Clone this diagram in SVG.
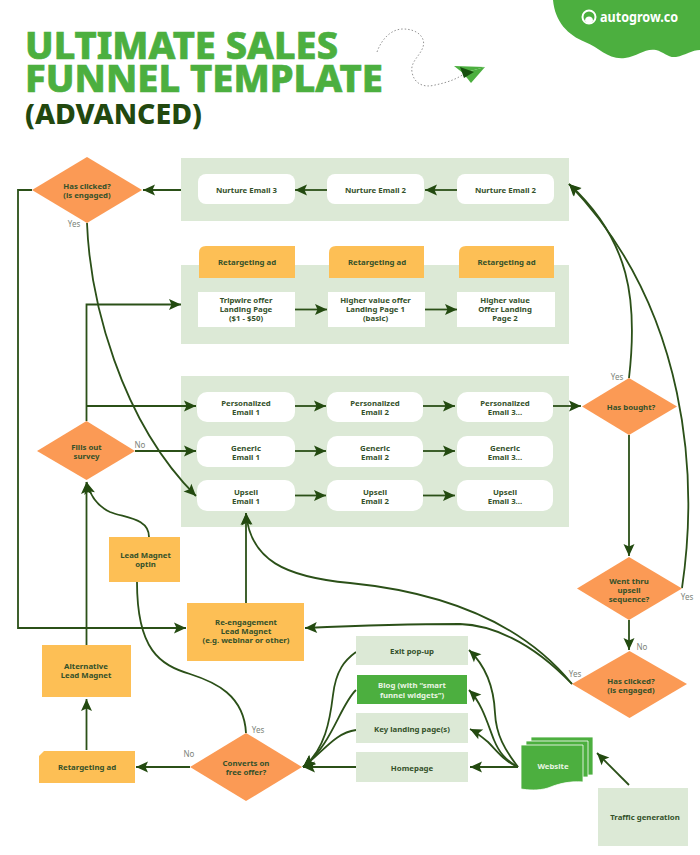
<svg xmlns="http://www.w3.org/2000/svg" width="700" height="855" viewBox="0 0 700 855">
<style>
text{font-family:"Noto Sans","Open Sans","Liberation Sans",sans-serif}
.t{font-size:7.800px;font-weight:700;fill:#34512a;text-anchor:middle}
.w{fill:#eaf5e4}
.l{font-size:8px;fill:#7c8479;text-anchor:middle}
.p{fill:#dce9d6}
.b{fill:#fff}
.y{fill:#fdbf55}
.d{fill:#fb9a55}
.c{fill:none;stroke:#2b5018;stroke-width:1.800}
.a{marker-end:url(#h)}
.h1{font-size:38px;font-weight:800;fill:#4caf3f;stroke:#4caf3f;stroke-width:0.700}
</style>
<defs>
<marker id="h" markerUnits="userSpaceOnUse" markerWidth="14" markerHeight="14" refX="13" refY="7" orient="auto" overflow="visible"><path d="M1 1.500L13 7L1 12.500L3.500 7Z" fill="#234a10"/></marker>
</defs>
<rect width="700" height="855" fill="#fff"/>
<g id="title">
<text class="h1"><tspan x="25" y="59" textLength="313" lengthAdjust="spacingAndGlyphs">ULTIMATE SALES</tspan><tspan x="25" y="91.500" textLength="358" lengthAdjust="spacingAndGlyphs">FUNNEL TEMPLATE</tspan></text>
<text x="25" y="124" font-size="29" font-weight="800" fill="#22480f" textLength="177" lengthAdjust="spacingAndGlyphs">(ADVANCED)</text>
</g>
<g id="logo">
<path d="M553 0C555 22 568 35 585 42C600 48 608 60 625 58C638 56 645 48 656 50C664 52 668 58 676 57C686 55 692 50 700 50V0Z" fill="#4caf3f"/>
<circle cx="589" cy="17" r="6.500" fill="none" stroke="#fff" stroke-width="2"/>
<path d="M585 20.500C585 15 593 15 593 20.500L591 23H587Z" fill="#fff"/>
<text x="600" y="22" font-size="13.500" font-weight="700" fill="#fff" textLength="78" lengthAdjust="spacingAndGlyphs">autogrow.co</text>
</g>
<g id="plane">
<path d="M377 52C382 38 392 29 403 29C418 29 426 38 423 47C420 56 410 62 412 72C414 84 424 88 435 85C445 83 455 80 464 74" fill="none" stroke="#777" stroke-width="0.800" stroke-dasharray="1.500 2"/>
<path d="M454 66L485 67L463 73Z" fill="#4caf3f"/>
<path d="M463 73L485 67L471 83Z" fill="#4caf3f"/>
<path d="M460 67L474 72L464 78Z" fill="#17500f"/>
</g>
<g id="panels">
<rect class="p" x="181" y="158" width="388" height="63"/>
<rect class="p" x="181" y="265" width="388" height="79"/>
<rect class="p" x="181" y="376" width="388" height="151"/>
</g>
<g id="connectors">
<path class="c a" d="M457 190H425"/>
<path class="c a" d="M327 190H295"/>
<path class="c a" d="M181 190H143"/>
<path class="c a" d="M32 190H18V628H186"/>
<path class="c a" d="M87 223C90 300 120 420 196 496"/>
<path class="c a" d="M295 309.500H327"/>
<path class="c a" d="M425 309.500H457"/>
<path class="c a" d="M86.500 421V304.500H181"/>
<path class="c a" d="M86.500 406H196"/>
<path class="c a" d="M135 451H196"/>
<path class="c a" d="M295 406H326"/>
<path class="c a" d="M423 406H455"/>
<path class="c a" d="M295 451H326"/>
<path class="c a" d="M423 451H455"/>
<path class="c a" d="M295 495.500H326"/>
<path class="c a" d="M423 495.500H455"/>
<path class="c a" d="M553 406H581"/>
<path class="c a" d="M629 378C638 300 630 240 569 184"/>
<path class="c a" d="M629 435V556"/>
<path class="c a" d="M629 620V650"/>
<path class="c a" d="M682 588C698 480 690 310 569 184"/>
<path class="c a" d="M572 684C520 620 440 592 350 583C285 577 250 560 246 513"/>
<path class="c a" d="M572 684C530 640 490 625 460 624C420 624 350 626 305 628"/>
<path class="c a" d="M246 603V513"/>
<path class="c a" d="M149 537C149 518 125 518 110 512C97 506 90 495 86.500 482"/>
<path class="c a" d="M86.500 645V482"/>
<path class="c a" d="M86.500 750V699"/>
<path class="c a" d="M190 767H136"/>
<path class="c" d="M246 733C244 695 215 682 190 674C160 665 137 650 137 582"/>
<path class="c a" d="M356 767H303"/>
<path class="c a" d="M356 730C335 733 325 750 303 767"/>
<path class="c a" d="M356 690C340 705 332 745 303 767"/>
<path class="c a" d="M356 652C345 660 336 670 333 695C330 720 325 750 303 767"/>
<path class="c a" d="M518 767H470"/>
<path class="c a" d="M518 767C505 762 498 752 488 742C482 737 476 732 470 729"/>
<path class="c a" d="M518 767C505 760 499 752 494 740C488 725 482 703 469 690"/>
<path class="c a" d="M518 767C505 750 496 735 495 713C494 690 488 668 469 650"/>
<path class="c a" d="M629 785L597 753"/>
</g>
<g id="n1"><rect class="b" x="198" y="174" width="97" height="30" rx="8"/><text class="t" x="246.500" y="192.500">Nurture Email 3</text></g>
<g id="n2"><rect class="b" x="327" y="174" width="97" height="30" rx="8"/><text class="t" x="375.500" y="192.500">Nurture Email 2</text></g>
<g id="n3"><rect class="b" x="457" y="174" width="97" height="30" rx="8"/><text class="t" x="505.500" y="192.500">Nurture Email 2</text></g>
<g id="hc1"><path class="d" d="M87 157L142 190L87 223L32 190Z"/><text class="t"><tspan x="87" y="189">Has clicked?</tspan><tspan x="87" y="198">(is engaged)</tspan></text><text class="l" x="74" y="227">Yes</text></g>
<g id="ra1"><path class="y" d="M206 246H295V278H199V253Q199 246 206 246Z"/><text class="t" x="247" y="265">Retargeting ad</text></g>
<g id="ra2"><path class="y" d="M336 246H424V278H329V253Q329 246 336 246Z"/><text class="t" x="377" y="265">Retargeting ad</text></g>
<g id="ra3"><path class="y" d="M466 246H554V278H459V253Q459 246 466 246Z"/><text class="t" x="506.500" y="265">Retargeting ad</text></g>
<g id="lp1"><rect class="b" x="198" y="292" width="97" height="35"/><text class="t"><tspan x="246" y="303">Tripwire offer</tspan><tspan x="246" y="312">Landing Page</tspan><tspan x="246" y="321">($1 - $50)</tspan></text></g>
<g id="lp2"><rect class="b" x="328" y="292" width="97" height="35"/><text class="t"><tspan x="375.500" y="303">Higher value offer</tspan><tspan x="375.500" y="312">Landing Page 1</tspan><tspan x="375.500" y="321">(basic)</tspan></text></g>
<g id="lp3"><rect class="b" x="457" y="292" width="98" height="35"/><text class="t"><tspan x="505" y="303">Higher value</tspan><tspan x="505" y="312">Offer Landing</tspan><tspan x="505" y="321">Page 2</tspan></text></g>
<g id="pe1"><rect class="b" x="197" y="392" width="98" height="30" rx="10"/><text class="t"><tspan x="246" y="406">Personalized</tspan><tspan x="246" y="415">Email 1</tspan></text></g>
<g id="pe2"><rect class="b" x="327" y="392" width="96" height="30" rx="10"/><text class="t"><tspan x="375" y="406">Personalized</tspan><tspan x="375" y="415">Email 2</tspan></text></g>
<g id="pe3"><rect class="b" x="457" y="392" width="96" height="30" rx="10"/><text class="t"><tspan x="505" y="406">Personalized</tspan><tspan x="505" y="415">Email 3...</tspan></text></g>
<g id="ge1"><rect class="b" x="197" y="436" width="98" height="31" rx="10"/><text class="t"><tspan x="246" y="450.500">Generic</tspan><tspan x="246" y="459.500">Email 1</tspan></text></g>
<g id="ge2"><rect class="b" x="327" y="436" width="96" height="31" rx="10"/><text class="t"><tspan x="375" y="450.500">Generic</tspan><tspan x="375" y="459.500">Email 2</tspan></text></g>
<g id="ge3"><rect class="b" x="457" y="436" width="96" height="31" rx="10"/><text class="t"><tspan x="505" y="450.500">Generic</tspan><tspan x="505" y="459.500">Email 3...</tspan></text></g>
<g id="up1"><rect class="b" x="197" y="480" width="98" height="31" rx="10"/><text class="t"><tspan x="246" y="495">Upsell</tspan><tspan x="246" y="504">Email 1</tspan></text></g>
<g id="up2"><rect class="b" x="327" y="480" width="96" height="31" rx="10"/><text class="t"><tspan x="375" y="495">Upsell</tspan><tspan x="375" y="504">Email 2</tspan></text></g>
<g id="up3"><rect class="b" x="457" y="480" width="96" height="31" rx="10"/><text class="t"><tspan x="505" y="495">Upsell</tspan><tspan x="505" y="504">Email 3...</tspan></text></g>
<g id="fills"><path class="d" d="M86.500 421L135 451L86.500 480L37 451Z"/><text class="t"><tspan x="86.500" y="450">Fills out</tspan><tspan x="86.500" y="459">survey</tspan></text><text class="l" x="140" y="448">No</text></g>
<g id="bought"><path class="d" d="M629 378L677 406.500L629 435L582 406.500Z"/><text class="t" x="631" y="409.500">Has bought?</text><text class="l" x="617" y="380">Yes</text></g>
<g id="thru"><path class="d" d="M629 557L682 588.500L629 620L577 588.500Z"/><text class="t"><tspan x="629" y="584">Went thru</tspan><tspan x="629" y="593">upsell</tspan><tspan x="629" y="602">sequence?</tspan></text><text class="l" x="687" y="600">Yes</text><text class="l" x="642" y="650">No</text></g>
<g id="hc2"><path class="d" d="M629.500 651L687 684L629.500 718L572 684Z"/><text class="t"><tspan x="631" y="684">Has clicked?</tspan><tspan x="631" y="693">(is engaged)</tspan></text><text class="l" x="575" y="677">Yes</text></g>
<g id="optin"><rect class="y" x="109" y="537" width="71" height="45"/><text class="t"><tspan x="145.500" y="558">Lead Magnet</tspan><tspan x="145.500" y="567">optin</tspan></text></g>
<g id="reeng"><rect class="y" x="187" y="603" width="117" height="58"/><text class="t"><tspan x="246" y="625">Re-engagement</tspan><tspan x="246" y="634">Lead Magnet</tspan><tspan x="246" y="643">(e.g. webinar or other)</tspan></text></g>
<g id="alt"><rect class="y" x="42" y="645" width="89" height="52"/><text class="t"><tspan x="86" y="669">Alternative</tspan><tspan x="86" y="678">Lead Magnet</tspan></text></g>
<g id="ra4"><path class="y" d="M44 751H135V783H39V756Z"/><text class="t" x="87" y="770">Retargeting ad</text></g>
<g id="conv"><path class="d" d="M246 733L302 767L246 801L190 767Z"/><text class="t"><tspan x="246" y="766">Converts on</tspan><tspan x="246" y="775">free offer?</tspan></text><text class="l" x="258" y="733">Yes</text><text class="l" x="189" y="757">No</text></g>
<g id="exit"><rect class="p" x="356" y="636" width="112" height="29"/><text class="t" x="412" y="654">Exit pop-up</text></g>
<g id="blog"><rect x="357" y="675" width="110" height="29" fill="#4caf3f"/><text class="t w"><tspan x="412" y="688">Blog (with “smart</tspan><tspan x="412" y="697.500">funnel widgets”)</tspan></text></g>
<g id="key"><rect class="p" x="356" y="713" width="112" height="30"/><text class="t" x="412" y="732">Key landing page(s)</text></g>
<g id="home"><rect class="p" x="356" y="752" width="112" height="30"/><text class="t" x="412" y="770.500">Homepage</text></g>
<g id="website">
<path d="M531 737H593V775H531Z" fill="#4caf3f" stroke="#fff" stroke-width="0.800"/>
<path d="M526 741H588V777H526Z" fill="#4caf3f" stroke="#fff" stroke-width="0.800"/>
<path d="M521 745H583V782C568 781 558 784 548 788C538 791 528 790 521 789Z" fill="#4caf3f" stroke="#fff" stroke-width="0.800"/>
<text class="t w" x="553" y="769">Website</text>
</g>
<g id="traffic"><rect class="p" x="598" y="788" width="90" height="58"/><text class="t" x="645" y="819.500">Traffic generation</text></g>
</svg>
